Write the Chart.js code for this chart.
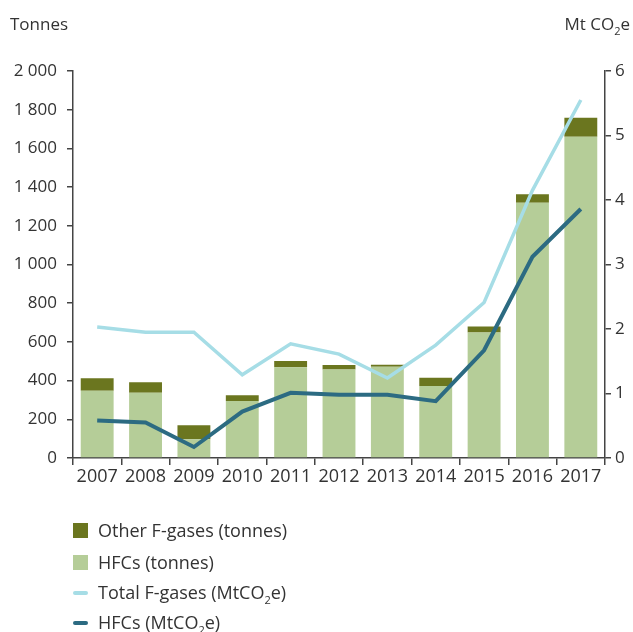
<!DOCTYPE html>
<html>
<head>
<meta charset="utf-8">
<script src="https://cdn.jsdelivr.net/npm/chart.js@4/dist/chart.umd.min.js"></script>
<style>
  html, body { margin: 0; padding: 0; background: #fff; }
  #wrap { width: 633px; height: 632px; position: relative; }
</style>
</head>
<body>
<div id="wrap"><canvas id="chart" width="633" height="632"></canvas></div>
<script>
// Data
const years = ['2007', '2008', '2009', '2010', '2011', '2012', '2013', '2014', '2015', '2016', '2017'];
const hfcTonnes   = [348, 337, 97, 295, 469, 458, 472, 372, 648, 1319, 1660];
const otherTonnes = [64, 54, 72, 29, 32, 23, 10, 43, 31, 44, 99];
const totalMt     = [2.03, 1.95, 1.95, 1.29, 1.77, 1.61, 1.24, 1.75, 2.41, 4.15, 5.55];
const hfcMt       = [0.58, 0.55, 0.17, 0.72, 1.01, 0.98, 0.98, 0.88, 1.67, 3.12, 3.86];

const leftTitle = 'Tonnes';
const rightTitle = 'Mt CO₂e';

const FONT = '"Open Sans", "Noto Sans", sans-serif';
const FS = 18;
const TXT = '#333333';
const AXIS = '#444444';
const C_OTHER = '#6b761f';
const C_HFC = '#b5cd98';
const C_TOTAL = '#a6dde6';
const C_HFCLINE = '#2c6b82';

// legend entries
const legendItems = [
    { label: 'Other F-gases (tonnes)', color: C_OTHER, type: 'box' },
    { label: 'HFCs (tonnes)', color: C_HFC, type: 'box' },
    { label: 'Total F-gases (MtCO₂e)', color: C_TOTAL, type: 'line' },
    { label: 'HFCs (MtCO₂e)', color: C_HFCLINE, type: 'line' }
];

function fmtThousands(v) {
    return String(v).replace(/\B(?=(\d{3})+(?!\d))/g, ' ');
}

// tulis teks dengan subscript "₂"
function drawSubText(ctx, text, x, y, size, align) {
    const parts = text.split('₂');
    const big = size + 'px ' + FONT;
    const small = Math.round(size * 0.62) + 'px ' + FONT;
    let total = 0;
    parts.forEach((p, i) => {
        ctx.font = big; total += ctx.measureText(p).width;
        if (i < parts.length - 1) { ctx.font = small; total += ctx.measureText('2').width; }
    });
    let cx = align === 'right' ? x - total : x;
    ctx.textAlign = 'left';
    ctx.textBaseline = 'alphabetic';
    parts.forEach((p, i) => {
        ctx.font = big; ctx.fillText(p, cx, y); cx += ctx.measureText(p).width;
        if (i < parts.length - 1) {
            ctx.font = small; ctx.fillText('2', cx, y + size * 0.28); cx += ctx.measureText('2').width;
        }
    });
}

const extrasPlugin = {
    id: 'extras',
    afterDraw(chart) {
        const ctx = chart.ctx;
        ctx.save();
        ctx.fillStyle = TXT;
        drawSubText(ctx, leftTitle, 10, 30, FS - 1, 'left');
        drawSubText(ctx, rightTitle, 630, 30, FS - 1, 'right');

        // legend
        const x0 = 73, rowY = [531, 563, 593, 623];
        legendItems.forEach((item, i) => {
            const cy = rowY[i];
            if (item.type === 'box') {
                ctx.fillStyle = item.color;
                ctx.fillRect(x0, cy - 8, 15, 15);
            } else {
                ctx.strokeStyle = item.color;
                ctx.lineWidth = 4;
                ctx.lineCap = 'round';
                ctx.beginPath();
                ctx.moveTo(x0 + 2, cy);
                ctx.lineTo(x0 + 13, cy);
                ctx.stroke();
            }
            ctx.fillStyle = TXT;
            drawSubText(ctx, item.label, 98, cy + 6, FS, 'left');
        });
        ctx.restore();
    }
};

const ctx = document.getElementById('chart').getContext('2d');
new Chart(ctx, {
    type: 'bar',
    data: {
        labels: years,
        datasets: [
            { type: 'line', label: 'HFCs (MtCO2e)', data: hfcMt, yAxisID: 'y1', borderColor: C_HFCLINE, borderWidth: 4, pointRadius: 0, tension: 0, order: 0 },
            { type: 'line', label: 'Total F-gases (MtCO2e)', data: totalMt, yAxisID: 'y1', borderColor: C_TOTAL, borderWidth: 3.5, pointRadius: 0, tension: 0, order: 1 },
            { label: 'HFCs (tonnes)', data: hfcTonnes, backgroundColor: C_HFC, yAxisID: 'y', stack: 's', order: 2 },
            { label: 'Other F-gases (tonnes)', data: otherTonnes, backgroundColor: C_OTHER, yAxisID: 'y', stack: 's', order: 2 }
        ]
    },
    options: {
        responsive: false,
        animation: false,
        devicePixelRatio: 1,
        layout: { padding: { top: 71, left: 0, right: 0, bottom: 0 } },
        datasets: { bar: { categoryPercentage: 1, barPercentage: 0.68 } },
        plugins: { legend: { display: false }, tooltip: { enabled: false } },
        scales: {
            x: {
                stacked: true,
                afterFit: (s) => { s.height = 632 - 71 - 387; },
                grid: { drawOnChartArea: false, drawTicks: true, tickLength: 7, color: AXIS, lineWidth: 1.5, offset: true },
                border: { color: AXIS, width: 1.5 },
                ticks: { color: TXT, font: { family: FONT, size: FS }, padding: 1, maxRotation: 0, autoSkip: false }
            },
            y: {
                stacked: true,
                position: 'left',
                min: 0, max: 2000,
                afterFit: (s) => { s.width = 73; },
                grid: { drawOnChartArea: false, tickLength: 6, color: AXIS, lineWidth: 1.5 },
                border: { color: AXIS, width: 1.5 },
                ticks: { stepSize: 200, color: TXT, font: { family: FONT, size: FS - 1 }, padding: 10, callback: (v) => fmtThousands(v) }
            },
            y1: {
                stacked: false,
                position: 'right',
                min: 0, max: 6,
                afterFit: (s) => { s.width = 28; },
                grid: { drawOnChartArea: false, tickLength: 6, color: AXIS, lineWidth: 1.5 },
                border: { color: AXIS, width: 1.5 },
                ticks: { stepSize: 1, color: TXT, font: { family: FONT, size: FS - 1 }, padding: 4 }
            }
        }
    },
    plugins: [extrasPlugin]
});
</script>
</body>
</html>
